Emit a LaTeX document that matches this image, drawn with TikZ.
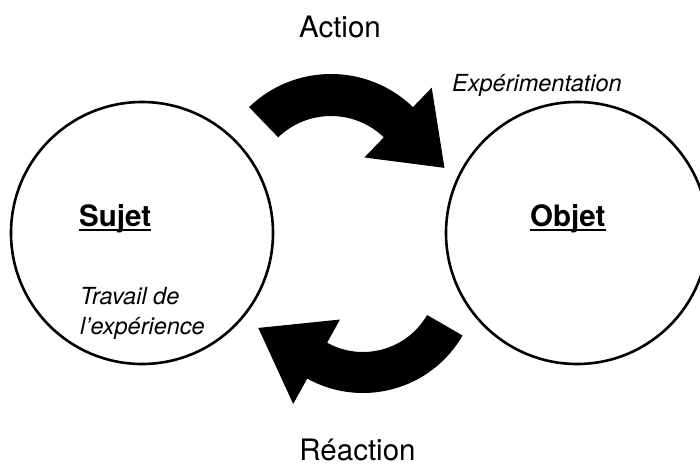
\documentclass[tikz,border=0pt]{standalone}
\usepackage{fontspec}
\setmainfont{TeX Gyre Heros}
\usetikzlibrary{positioning}

\begin{document}
\begin{tikzpicture}[x=1pt,y=1pt,cercle/.style={circle,draw=black,line width=2.6pt,minimum size=262pt,inner sep=0pt},
titre/.style={inner sep=0pt,anchor=base west,font=\fontsize{29.5}{35}\selectfont\bfseries},
note/.style={inner sep=0pt,anchor=base west,font=\fontsize{23.5}{29}\selectfont\itshape},
sens/.style={inner sep=0pt,anchor=base,font=\fontsize{29.5}{35}\selectfont},
fleche/.style={fill=black},souligne/.style={line width=2pt}]
\useasboundingbox (0,0) rectangle (700,463);
\node[cercle] (sujet) at (142,230) {};
\node[cercle] (objet) at (577,230) {};
\node[titre] (sujetlbl) at (79,236) {Sujet};
\node[titre] (objetlbl) at (530,236) {Objet};
\draw[souligne] ([yshift=-3.5pt]sujetlbl.base west) -- ([yshift=-3.5pt]sujetlbl.base east);
\draw[souligne] ([yshift=-3.5pt]objetlbl.base west) -- ([yshift=-3.5pt]objetlbl.base east);
\node[note] (travail) at (80,158) {Travail de};
\node[note] (experience) at ([yshift=-29pt]travail.base west) {l’expérience};
\node[note] (experimentation) at (452,371) {Expérimentation};
\node[sens] (action) at (340,425) {Action};
\node[sens] (reaction) at (357.5,2.5) {Réaction};
% fleches courbes
\fill[fleche,shift={(331,271)}] (134:118) arc[start angle=134,end angle=46,radius=118]
-- (46:145) -- (12:116) -- (46:48) -- (46:76) arc[start angle=46,end angle=134,radius=76] -- cycle;
\fill[fleche,shift={(363,185)}] (-30:115) arc[start angle=-30,end angle=-119,radius=115]
-- (-119:144) -- (-154.5:116) -- (-119:47.5) -- (-119:74) arc[start angle=-119,end angle=-30,radius=74] -- cycle;
\end{tikzpicture}
\end{document}
